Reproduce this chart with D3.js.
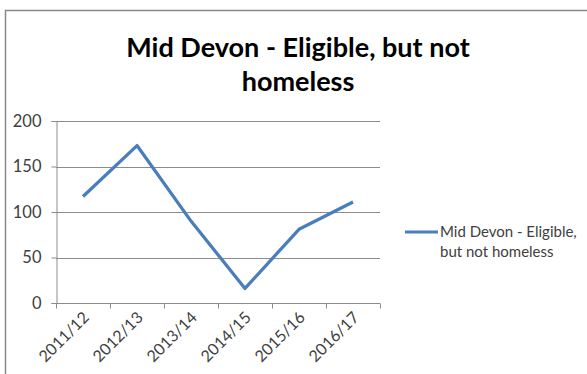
<!DOCTYPE html>
<html>
<head>
<meta charset="utf-8">
<script src="https://cdn.jsdelivr.net/npm/d3@7"></script>
<style>
  html, body { margin: 0; padding: 0; background: #fff; }
  svg { display: block; }
  text { font-family: Lato, "Open Sans", "Noto Sans", sans-serif; }
</style>
</head>
<body>
<svg id="chart" width="587" height="374"></svg>
<script>
// Data
const categories = ["2011/12", "2012/13", "2013/14", "2014/15", "2015/16", "2016/17"];
const values = [117, 173, 90, 16, 81, 111];
const yTicks = [0, 50, 100, 150, 200];
const seriesName = "Mid Devon - Eligible, but not homeless";
const titleLines = ["Mid Devon - Eligible, but not", "homeless"];
const legendLines = ["Mid Devon - Eligible,", "but not homeless"];

const svg = d3.select("#chart");
const W = 587, H = 374;
const plot = { left: 56, right: 380, top: 121, bottom: 303 };
const lineColor = "#4a7ebb";
const gridColor = "#8c8c8c";
const textColor = "#404040";

// chart frame
svg.append("rect")
  .attr("x", 5.5).attr("y", 10.5)
  .attr("width", W + 10).attr("height", H + 10)
  .attr("fill", "#fff").attr("stroke", "#8a8a8a").attr("stroke-width", 1.5);

// title
svg.append("text")
  .attr("text-anchor", "middle")
  .attr("font-weight", "bold")
  .attr("font-size", 27)
  .attr("fill", "#000")
  .selectAll("tspan").data(titleLines).join("tspan")
  .attr("x", 298)
  .attr("y", (d, i) => 57 + i * 34)
  .text(d => d);

// scales
const x = d3.scaleBand().domain(categories).range([plot.left, plot.right]).padding(0);
const y = d3.scaleLinear().domain([0, 200]).range([plot.bottom, plot.top]);

// gridlines
svg.append("g")
  .selectAll("line").data(yTicks.filter(t => t > 0)).join("line")
  .attr("x1", plot.left).attr("x2", plot.right)
  .attr("y1", d => Math.round(y(d)) + 0.5).attr("y2", d => Math.round(y(d)) + 0.5)
  .attr("stroke", gridColor).attr("stroke-width", 1);

// y axis
const yAxis = svg.append("g")
  .attr("transform", `translate(${plot.left + 0.5},0)`)
  .call(d3.axisLeft(y).tickValues(yTicks).tickSize(5).tickPadding(10));
yAxis.select(".domain").attr("stroke", gridColor);
yAxis.selectAll(".tick line").attr("stroke", gridColor);
yAxis.selectAll(".tick text")
  .attr("font-size", 16.5).attr("fill", textColor)
  .style("font-family", "Lato, 'Open Sans', sans-serif");

// x axis: ticks at category boundaries
const xg = svg.append("g").attr("transform", `translate(0,${Math.round(plot.bottom) + 0.5})`);
xg.append("line")
  .attr("x1", plot.left).attr("x2", plot.right)
  .attr("stroke", gridColor);
const boundaries = categories.map(c => x(c)).concat([x(categories[categories.length - 1]) + x.bandwidth()]);
xg.selectAll("line.tk").data(boundaries).join("line")
  .attr("class", "tk")
  .attr("x1", d => Math.round(d) + 0.5).attr("x2", d => Math.round(d) + 0.5)
  .attr("y1", 0).attr("y2", 5)
  .attr("stroke", gridColor);
xg.selectAll("text").data(categories).join("text")
  .attr("text-anchor", "end")
  .attr("font-size", 16)
  .attr("fill", textColor)
  .attr("transform", d => `translate(${x(d) + x.bandwidth() / 2 + 7},${15}) rotate(-45)`)
  .text(d => d);

// series line
const line = d3.line()
  .x((d, i) => x(categories[i]) + x.bandwidth() / 2)
  .y(d => y(d));
svg.append("path")
  .datum(values)
  .attr("d", line)
  .attr("fill", "none")
  .attr("stroke", lineColor)
  .attr("stroke-width", 3.25)
  .attr("stroke-linejoin", "round");

// legend
const lg = svg.append("g").attr("aria-label", seriesName);
lg.append("line")
  .attr("x1", 405).attr("x2", 438)
  .attr("y1", 232).attr("y2", 232)
  .attr("stroke", lineColor).attr("stroke-width", 3);
lg.append("text")
  .attr("font-size", 15).attr("fill", textColor)
  .selectAll("tspan").data(legendLines).join("tspan")
  .attr("x", 440)
  .attr("y", (d, i) => 237 + i * 20)
  .text(d => d);
</script>
</body>
</html>
